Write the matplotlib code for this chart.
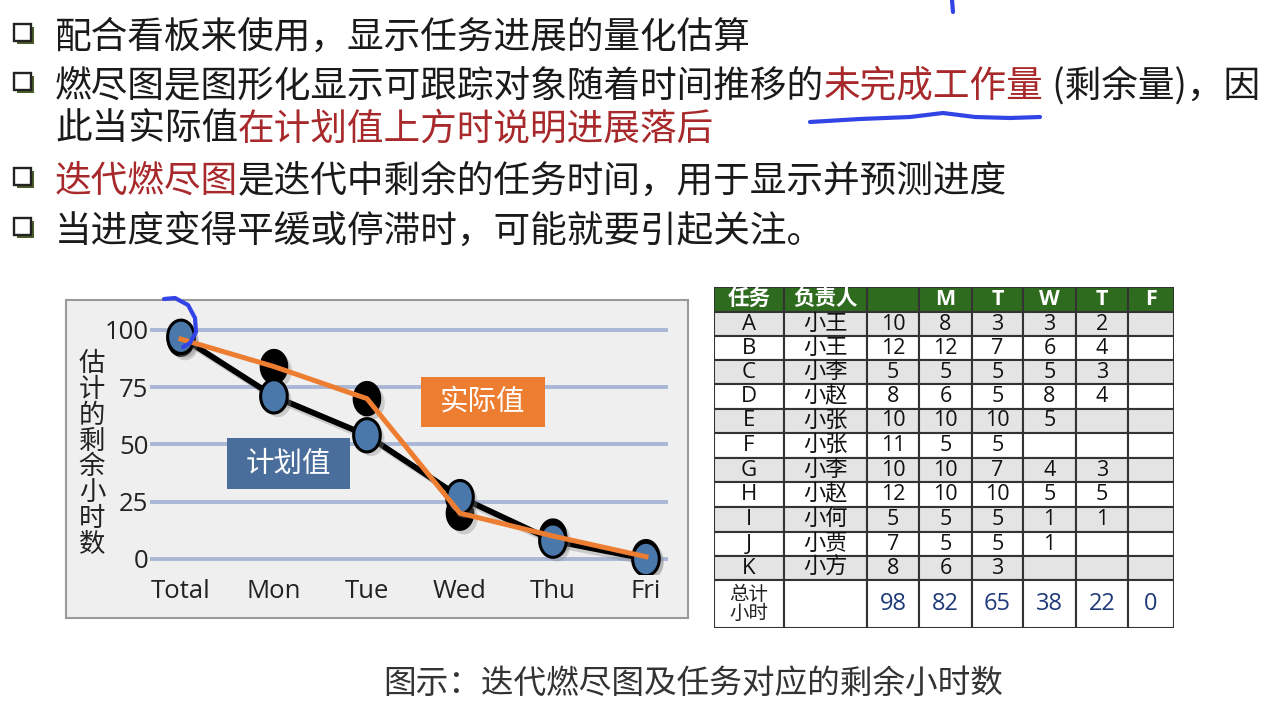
import numpy as np
import matplotlib
matplotlib.use("Agg")
import matplotlib.pyplot as plt
import matplotlib.patheffects as pe
from matplotlib.patches import Rectangle
from matplotlib.lines import Line2D

CJK = ["Noto Sans CJK SC", "DejaVu Sans"]
LAT = ["Open Sans", "Noto Sans CJK SC", "DejaVu Sans"]

# 燃尽图数据
days = ["Total", "Mon", "Tue", "Wed", "Thu", "Fri"]
planned = [97, 71, 54, 27, 8, 0]
actual = [96, 84, 70, 20, 10, 1]
y_ticks = [0, 25, 50, 75, 100]

# 任务表
header = ["任务", "负责人", "", "M", "T", "W", "T", "F"]
tasks = ["A", "B", "C", "D", "E", "F", "G", "H", "I", "J", "K"]
owners = ["小王", "小王", "小李", "小赵", "小张", "小张", "小李", "小赵", "小何", "小贾", "小方"]
h_start = [10, 12, 5, 8, 10, 11, 10, 12, 5, 7, 8]
h_mon = [8, 12, 5, 6, 10, 5, 10, 10, 5, 5, 6]
h_tue = [3, 7, 5, 5, 10, 5, 7, 10, 5, 5, 3]
h_wed = [3, 6, 5, 8, 5, None, 4, 5, 1, 1, None]
h_thu = [2, 4, 3, 4, None, None, 3, 5, 1, None, None]
h_fri = [None] * 11
totals = [98, 82, 65, 38, 22, 0]

W, H = 1278, 706
fig = plt.figure(figsize=(W / 100, H / 100), dpi=100)
fig.patch.set_facecolor("white")


def fx(x):
    return x / W


def fy(y):
    return 1 - y / H


def box(l, t, r, b):
    return [fx(l), fy(b), (r - l) / W, (b - t) / H]


BLACK = "#1a1a1a"
RED = "#a8292b"
ORANGE = "#ed7d31"
STEEL = "#4a6e9c"

# ---------------- 文字部分 ----------------
renderer = fig.canvas.get_renderer()


def put_line(x, y, segs, size=26.4):
    x = fx(x)
    for s, c in segs:
        t = fig.text(x, fy(y), s, color=c, fontsize=size, family=CJK,
                     ha="left", va="center")
        x += t.get_window_extent(renderer).width / W


def bullet(y):
    fig.add_artist(Rectangle((fx(17), fy(y + 10)), 17 / W, 17 / H,
                             transform=fig.transFigure, fc="#4b5e2a", ec="none"))
    fig.add_artist(Rectangle((fx(14), fy(y + 7)), 17 / W, 17 / H,
                             transform=fig.transFigure, fc="white", ec="#222222", lw=1.7))


lines = [
    (37, True, [("配合看板来使用，显示任务进展的量化估算", BLACK)]),
    (86, True, [("燃尽图是图形化显示可跟踪对象随着时间推移的", BLACK),
                ("未完成工作量", RED), (" (剩余量)，因", BLACK)]),
    (129, False, [("此当实际值", BLACK), ("在计划值上方时说明进展落后", RED)]),
    (181, True, [("迭代燃尽图", RED), ("是迭代中剩余的任务时间，用于显示并预测进度", BLACK)]),
    (231, True, [("当进度变得平缓或停滞时，可能就要引起关注。", BLACK)]),
]
for y, has_bullet, segs in lines:
    if has_bullet:
        bullet(y - 3)
    put_line(55, y, segs)

# 手写标注
pen = dict(color="#3344e6", lw=3, solid_capstyle="round", transform=fig.transFigure)
ux = np.array([810, 860, 910, 943, 975, 1010, 1040])
uy = np.array([122, 119, 117, 113, 117, 118, 117])
fig.add_artist(Line2D(fx(ux), fy(uy), **pen))
fig.add_artist(Line2D([fx(952), fx(953)], [fy(0), fy(12)], **pen))
cx = np.array([164, 175, 188, 195, 196, 190, 183])
cy = np.array([299, 298, 305, 318, 332, 343, 347])
fig.add_artist(Line2D(fx(cx), fy(cy), zorder=5, **pen))

# ---------------- 燃尽图 ----------------
fig.add_artist(Rectangle((fx(66), fy(618)), (688 - 66) / W, (618 - 300) / H,
                         transform=fig.transFigure, fc="#efefef", ec="#9a9a9a",
                         lw=1.5, zorder=-1))

ax = fig.add_axes(box(150, 310, 668, 575))
ax.patch.set_alpha(0)
x = np.arange(len(days))
ax.set_xlim(-0.333, 5.237)
ax.set_ylim(-7.0, 108.7)
for s in ax.spines.values():
    s.set_visible(False)
ax.set_yticks(y_ticks)
ax.set_xticks(x)
ax.set_xticklabels(days)
ax.tick_params(length=0, labelsize=18.5, labelcolor="#222222")
ax.tick_params(axis="y", pad=1)
ax.tick_params(axis="x", pad=3)
for lab in ax.get_xticklabels() + ax.get_yticklabels():
    lab.set_family(LAT)
ax.yaxis.grid(True, color="#a9b7d5", lw=2.8)
ax.set_axisbelow(True)

t = np.linspace(0, 2 * np.pi, 60)
ell = list(zip(0.8 * np.cos(t), np.sin(t)))
line_sh = [pe.SimpleLineShadow(offset=(3, -3), shadow_color="#888888", alpha=0.35), pe.Normal()]
mark_sh = [pe.SimplePatchShadow(offset=(3, -3), shadow_rgbFace="#888888", alpha=0.35), pe.Normal()]

ax.plot(x, actual, ls="none", marker=ell, ms=24.5, mfc="black", mec="black",
        zorder=2, path_effects=mark_sh)
ax.plot(x, planned, color="black", lw=4.2, zorder=3, path_effects=line_sh)
ax.plot(x, planned, ls="none", marker=ell, ms=24, mfc="#4a78aa", mec="black",
        mew=2.2, zorder=3, path_effects=mark_sh)
ax.plot(x, actual, color=ORANGE, lw=3.6, zorder=4)

fig.text(fx(92), fy(454), "\n".join("估计的剩余小时数"), family=CJK, fontsize=19,
         color="#222222", ha="center", va="center", linespacing=0.94)

for (l, tp, r, b), label, col in [((421, 377, 545, 427), "实际值", ORANGE),
                                  ((227, 438, 350, 489), "计划值", STEEL)]:
    fig.add_artist(Rectangle((fx(l), fy(b)), (r - l) / W, (b - tp) / H,
                             transform=fig.transFigure, fc=col, ec="none", zorder=2))
    fig.text(fx((l + r) / 2), fy((tp + b) / 2), label, family=CJK, fontsize=20.5,
             color="white", ha="center", va="center", zorder=3)

# ---------------- 表格 ----------------
col_edges = [714, 784, 867, 919, 972, 1023, 1076, 1128, 1174]
row_edges = [287, 312, 336, 360, 384, 409, 433, 458, 482, 507, 532, 556, 580, 628]
tb = fig.add_axes(box(col_edges[0], row_edges[0], col_edges[-1], row_edges[-1]))
tb.set_xlim(col_edges[0], col_edges[-1])
tb.set_ylim(row_edges[-1], row_edges[0])
tb.axis("off")

cols = [h_start, h_mon, h_tue, h_wed, h_thu, h_fri]
n_rows = len(tasks)


def cell(ci, ri, fc):
    tb.add_patch(Rectangle((col_edges[ci], row_edges[ri]),
                           col_edges[ci + 1] - col_edges[ci],
                           row_edges[ri + 1] - row_edges[ri],
                           fc=fc, ec="#333333", lw=1.5))


def ctext(ci, ri, s, **kw):
    xc = (col_edges[ci] + col_edges[ci + 1]) / 2
    yc = (row_edges[ri] + row_edges[ri + 1]) / 2
    tb.text(xc, yc, s, ha="center", va="center", **kw)


for ci, h in enumerate(header):
    cell(ci, 0, "#2f6b1f")
    ctext(ci, 0, h, color="white", fontsize=15.5, fontweight="bold", family=LAT)

for ri in range(n_rows):
    fc = "#e4e4e4" if ri % 2 == 0 else "white"
    vals = [tasks[ri], owners[ri]] + [c[ri] for c in cols]
    for ci, v in enumerate(vals):
        cell(ci, ri + 1, fc)
        if v is None:
            continue
        size = 16 if ci < 2 else 15.5
        ctext(ci, ri + 1, str(v), color="#111111", fontsize=size, family=LAT)

last = n_rows + 1
for ci in range(len(header)):
    cell(ci, last, "white")
ctext(0, last, "总计\n小时", color="#222222", fontsize=14, family=CJK, linespacing=0.9)
for ci, v in enumerate(totals):
    ctext(ci + 2, last, str(v), color="#1f3a78", fontsize=17, family=LAT)

# 图注
fig.text(fx(693), fy(684), "图示：迭代燃尽图及任务对应的剩余小时数", family=CJK,
         fontsize=23.5, style="italic", color="#333333", ha="center", va="center")

fig.savefig("out.png", dpi=100)
